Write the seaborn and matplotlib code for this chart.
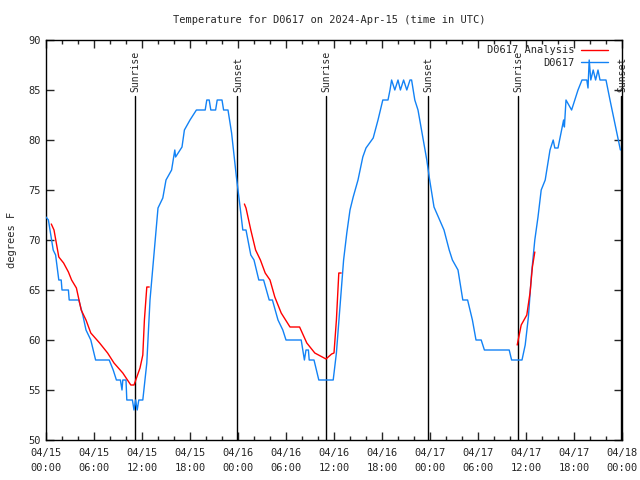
"""Temperatura do D0617 (observado vs analise) em 2024-04-15..18, estilo gnuplot."""

import matplotlib
import numpy as np
import pandas as pd

matplotlib.use("Agg")
import matplotlib.pyplot as plt  # noqa: E402
import seaborn as sns  # noqa: E402

# horas desde 2024-04-15 00:00 UTC
obs_hours = [0.0, 0.3, 0.6, 0.9, 1.2, 1.6, 1.9, 2.0, 2.8, 2.9, 4.1, 4.6, 5.0, 5.6, 6.2,
             7.9, 8.4, 8.8, 9.3, 9.5, 9.6, 10.0, 10.1, 10.8, 11.0, 11.2, 11.4, 11.6, 12.1,
             12.6, 13.0, 13.4, 13.8, 14.0, 14.6, 15.0, 15.7, 16.1, 16.2, 17.0, 17.3, 18.0,
             18.8, 19.9, 20.1, 20.4, 20.6, 21.2, 21.4, 22.0, 22.2, 22.75, 23.2, 23.8, 24.2,
             24.6, 25.0, 25.6, 26.0, 26.6, 27.2, 27.9, 28.3, 29.0, 29.6, 30.0, 31.9, 32.3,
             32.5, 32.8, 32.9, 33.5, 34.1, 35.9, 36.3, 36.75, 37.2, 37.6, 38.0, 38.4, 39.0,
             39.6, 40.0, 40.9, 41.5, 42.1, 42.75, 43.0, 43.2, 43.6, 44.0, 44.3, 44.7, 45.1,
             45.5, 45.7, 46.1, 46.5, 47.0, 47.6, 47.9, 48.5, 49.2, 49.75, 50.4, 50.8, 51.5,
             52.1, 52.7, 53.3, 53.75, 54.4, 54.8, 57.9, 58.2, 59.5, 59.9, 60.3, 60.7, 61.1,
             61.5, 61.9, 62.4, 63.0, 63.4, 63.6, 64.0, 64.7, 64.8, 65.0, 65.7, 66.5, 67.0,
             67.6, 67.75, 67.9, 68.1, 68.4, 68.7, 69.0, 69.25, 70.0, 70.5, 71.1, 71.8]
obs_temp = [72.3, 72, 70.5, 69, 68.5, 66, 66, 65, 65, 64, 64, 62.5, 61, 60, 58,
            58, 57, 56, 56, 55, 56, 56, 54, 54, 53, 54, 53, 54, 54,
            57.7, 64, 67.7, 71.3, 73.2, 74.2, 76, 77, 79, 78.3, 79.3, 81, 82,
            83, 83, 84, 84, 83, 83, 84, 84, 83, 83, 80.7, 76.3, 73.7,
            71, 71, 68.5, 68, 66, 66, 64, 64, 62, 61, 60, 60, 58,
            59, 59, 58, 58, 56, 56, 58.7, 63.3, 68, 70.7, 73, 74.3, 76,
            78.3, 79.2, 80.2, 82, 84, 84, 85, 86, 85, 86, 85, 86, 85,
            86, 86, 84, 83, 80.7, 78, 76.3, 73.3, 72, 71, 69, 68, 67,
            64, 64, 62, 60, 60, 59, 59, 58, 58, 59.5, 62.3, 66.7, 70,
            72.3, 75, 76, 79, 80, 79.2, 79.2, 82, 81.3, 84, 83, 85, 86,
            86, 85.2, 88, 86, 87, 86, 87, 86, 86, 84, 81.7, 79]

# analise: tres trechos (madrugada de cada dia)
ana1_hours = [0.66, 1.0, 1.6, 2.2, 2.8, 3.2, 3.8, 4.4, 5.0, 5.6, 6.7, 7.7, 8.5, 9.6,
              10.6, 11.0, 11.75, 12.1, 12.3, 12.6, 12.9]
ana1_temp = [71.6, 71.0, 68.3, 67.7, 66.8, 66.0, 65.2, 63.0, 62.0, 60.7, 59.7, 58.7, 57.7,
             56.7, 55.5, 55.5, 57.2, 58.5, 62.0, 65.3, 65.3]
ana2_hours = [24.8, 25.0, 25.6, 26.2, 26.8, 27.4, 28.0, 28.6, 29.4, 30.5, 31.7, 32.6, 33.6,
              35.0, 35.7, 36.0, 36.3, 36.6, 36.9]
ana2_temp = [73.6, 73.2, 71.0, 69.0, 68.0, 66.7, 66.0, 64.3, 62.7, 61.3, 61.3, 59.7, 58.7,
             58.1, 58.6, 58.7, 62.0, 66.7, 66.7]
ana3_hours = [58.9, 59.4, 59.75, 60.1, 60.5, 60.8, 61.1]
ana3_temp = [59.5, 61.5, 62.0, 62.5, 64.7, 67.3, 68.8]

sun_hours = [11.1, 23.9, 35.0, 47.75, 59.0, 71.9]
sun_labels = ["Sunrise", "Sunset", "Sunrise", "Sunset", "Sunrise", "Sunset"]

tick_hours = list(range(0, 73, 6))
tick_labels = [f"04/{15 + h // 24}\n{h % 24:02d}:00" for h in tick_hours]

RED = "#ff0000"
BLUE = "#1282f5"

sns.set_style("ticks")
plt.rcParams["font.family"] = ["DejaVu Sans Mono"]
plt.rcParams["font.size"] = 7

fig = plt.figure(figsize=(6.4, 4.8), dpi=100)
ax = fig.add_axes([46 / 640, 40 / 480, 576 / 640, 400 / 480])

obs = pd.DataFrame({"hour": obs_hours, "temp": obs_temp})
sns.lineplot(data=obs, x="hour", y="temp", ax=ax, color=BLUE, lw=1.0,
             sort=False, estimator=None, label="D0617", zorder=3)
for i, (hh, tt) in enumerate([(ana1_hours, ana1_temp), (ana2_hours, ana2_temp),
                              (ana3_hours, ana3_temp)]):
    sns.lineplot(x=hh, y=tt, ax=ax, color=RED, lw=1.0, sort=False, estimator=None,
                 label="D0617 Analysis" if i == 0 else None, zorder=4)

for h, lab in zip(sun_hours, sun_labels):
    ax.plot([h, h], [50, 84.4], color="black", lw=1.0, zorder=2)
    ax.text(h + 0.1, 84.8, lab, rotation=90, ha="center", va="bottom", fontsize=7)

ax.set_xlim(0, 72)
ax.set_ylim(50, 90)
ax.set_xticks(tick_hours)
ax.set_xticklabels(tick_labels, linespacing=1.6)
ax.set_xticks(np.arange(0, 73, 2), minor=True)
ax.set_yticks(range(50, 91, 5))
ax.tick_params(which="major", direction="in", top=True, right=True, length=6, width=1,
               labelsize=7.5)
ax.tick_params(axis="x", which="major", pad=6)
ax.tick_params(which="minor", direction="in", top=True, right=False, length=3, width=1)
ax.tick_params(axis="y", which="minor", left=False, right=False)
for s in ax.spines.values():
    s.set_linewidth(1.0)
    s.set_color("black")

ax.set_xlabel("")
ax.set_ylabel("degrees F", fontsize=7.5)
ax.yaxis.set_label_coords(-0.05, 0.5)
fig.text(0.515, 1 - 20 / 480, "Temperature for D0617 on 2024-Apr-15 (time in UTC)",
         ha="center", va="center", fontsize=7.5)

handles, labels = ax.get_legend_handles_labels()
order = [labels.index("D0617 Analysis"), labels.index("D0617")]
ax.legend([handles[i] for i in order], [labels[i] for i in order], loc="upper right",
          bbox_to_anchor=(0.996, 1.015), frameon=False, markerfirst=False,
          handlelength=2.6, fontsize=7.5, borderaxespad=0.7, labelspacing=0.25,
          handletextpad=0.6)

fig.savefig("out.png", dpi=100)
plt.close(fig)
